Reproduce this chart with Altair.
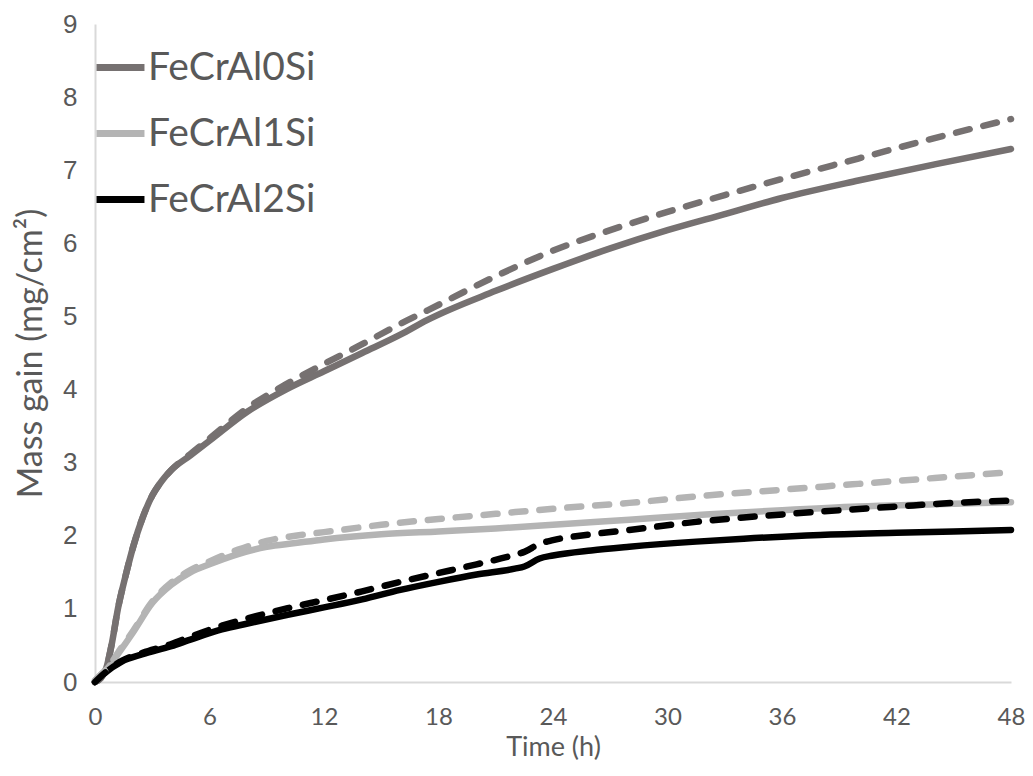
import altair as alt
import pandas as pd

alloys = ["FeCrAl0Si", "FeCrAl1Si", "FeCrAl2Si"]
colors = ["#767171", "#b4b4b4", "#000000"]
x_ticks = [0, 6, 12, 18, 24, 30, 36, 42, 48]
y_ticks = [0, 1, 2, 3, 4, 5, 6, 7, 8, 9]

# FeCrAl0Si
t_0 = [0, 0.3, 0.6, 0.9, 1.2, 1.6, 2.0, 2.5, 3.0, 3.5, 4.0, 5.0, 6.0, 8.0, 10, 12, 14, 16, 17.4,
       21, 24, 27, 30, 33, 36, 40, 44, 48]
solid_0 = [0, 0.05, 0.2, 0.55, 1.0, 1.45, 1.85, 2.25, 2.55, 2.75, 2.9, 3.1, 3.3, 3.7, 4.0, 4.25,
           4.5, 4.75, 4.95, 5.35, 5.65, 5.93, 6.18, 6.4, 6.62, 6.86, 7.08, 7.29]
dash_0 = [0, 0.05, 0.2, 0.55, 1.0, 1.45, 1.85, 2.25, 2.55, 2.75, 2.9, 3.12, 3.33, 3.75, 4.07, 4.35,
          4.62, 4.9, 5.08, 5.55, 5.9, 6.18, 6.43, 6.66, 6.88, 7.16, 7.44, 7.7]

# FeCrAl1Si
t_1 = [0, 0.3, 0.7, 1.2, 2.0, 3.0, 4.0, 5.0, 6.0, 7.5, 9, 10.5, 12, 15, 18, 21, 24, 28, 32, 36,
       40, 44, 48]
solid_1 = [0.02, 0.1, 0.2, 0.38, 0.68, 1.08, 1.33, 1.5, 1.61, 1.75, 1.85, 1.9, 1.95, 2.02, 2.06,
           2.1, 2.15, 2.22, 2.29, 2.35, 2.4, 2.43, 2.46]
dash_1 = [0.02, 0.1, 0.2, 0.4, 0.7, 1.1, 1.36, 1.53, 1.65, 1.81, 1.93, 2.0, 2.05, 2.15, 2.23,
          2.3, 2.37, 2.45, 2.55, 2.63, 2.71, 2.79, 2.87]

# FeCrAl2Si
t_2 = [0, 0.5, 1.4, 2.5, 4, 5, 6.65, 8, 10.1, 12, 14, 16, 18, 20, 22, 22.5, 23.3, 24, 26, 28,
       31.5, 34, 38, 42, 45, 48]
solid_2 = [0, 0.12, 0.28, 0.38, 0.49, 0.58, 0.72, 0.8, 0.92, 1.02, 1.13, 1.26, 1.37, 1.47, 1.55,
           1.58, 1.69, 1.73, 1.8, 1.85, 1.92, 1.96, 2.01, 2.04, 2.06, 2.08]
dash_2 = [0, 0.12, 0.29, 0.4, 0.52, 0.62, 0.77, 0.87, 1.01, 1.12, 1.24, 1.37, 1.49, 1.61, 1.74,
          1.78, 1.89, 1.94, 2.02, 2.08, 2.19, 2.25, 2.33, 2.4, 2.45, 2.48]


def frame(ts, vs, alloy):
    return pd.DataFrame({"t": ts, "v": vs, "alloy": alloy})


solid_df = pd.concat([frame(t_0, solid_0, alloys[0]), frame(t_1, solid_1, alloys[1]),
                      frame(t_2, solid_2, alloys[2])])
dash_df = pd.concat([frame(t_0, dash_0, alloys[0]), frame(t_1, dash_1, alloys[1]),
                     frame(t_2, dash_2, alloys[2])])

TXT = "#595959"
FONT = "Lato"

x_enc = alt.X("t:Q", scale=alt.Scale(domain=[0, 48], nice=False),
              axis=alt.Axis(values=x_ticks, title="Time (h)", grid=False, ticks=False,
                            domainColor="#d9d9d9", domainWidth=2,
                            labelFont=FONT, labelFontSize=24, labelColor=TXT, labelPadding=23,
                            labelFlush=False,
                            titleFont=FONT, titleFontSize=27, titleColor=TXT,
                            titleFontWeight="normal", titlePadding=5))
y_enc = alt.Y("v:Q", scale=alt.Scale(domain=[0, 9], nice=False),
              axis=alt.Axis(values=y_ticks, title="Mass gain (mg/cm²)", grid=False, ticks=False,
                            domainColor="#d9d9d9", domainWidth=2,
                            labelFont="Liberation Sans", labelFontSize=26, labelColor=TXT,
                            labelPadding=18,
                            titleFont=FONT, titleFontSize=34, titleColor=TXT,
                            titleFontWeight="normal", titlePadding=14))

legend = alt.Legend(orient="none", legendX=-2, legendY=16, title=None, symbolType="stroke",
                    symbolSize=2300, symbolStrokeWidth=7, labelFont=FONT, labelFontSize=39,
                    labelColor=TXT, rowPadding=18, padding=0, labelOffset=0, labelLimit=500,
                    symbolDash=[1, 0])
color_enc = alt.Color("alloy:N", scale=alt.Scale(domain=alloys, range=colors), legend=legend)

solid = alt.Chart(solid_df).mark_line(strokeWidth=6.5, interpolate="monotone",
                                      strokeCap="round", strokeJoin="round").encode(
    x=x_enc, y=y_enc, color=color_enc)
dashed = alt.Chart(dash_df).mark_line(strokeWidth=6.5, interpolate="monotone",
                                      strokeCap="round", strokeJoin="round",
                                      strokeDash=[14, 14]).encode(
    x=x_enc, y=y_enc, color=color_enc)

chart = alt.layer(solid, dashed).properties(
    width=916, height=658,
    autosize=alt.AutoSizeParams(type="none"),
    padding={"left": 87, "top": 16, "right": 14, "bottom": 80},
).configure_view(strokeWidth=0)

chart.save("out.html", embed_options={"renderer": "svg", "actions": False})
